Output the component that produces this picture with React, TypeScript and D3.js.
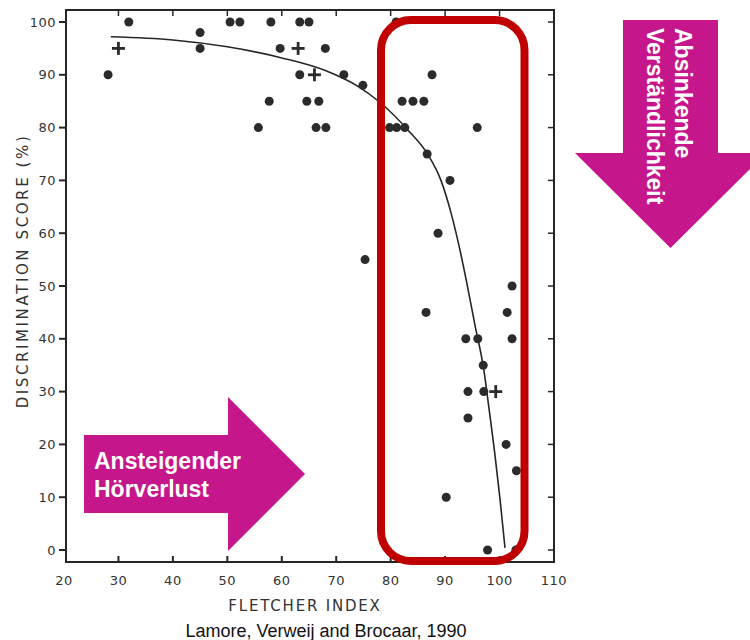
import { useMemo } from "react";
import * as d3 from "d3";

// scanned scatter: Fletcher index vs discrimination score
const dotX = [
  28.1, 31.9, 45, 45, 50.5, 52.3, 55.7, 58, 63.3, 65, 59.7, 68, 63.3, 71.4, 74.9,
  57.7, 64.6, 66.8, 66.3, 68.1, 81, 87.6, 82.1, 84.1, 86.1, 79.8, 81.1, 82.6,
  95.9, 86.7, 90.9, 88.7, 75.3, 102.3, 86.5, 101.4, 93.8, 96, 102.3, 97, 94.2,
  97.1, 94.2, 101.2, 103.1, 90.2, 97.8, 103,
];
const dotY = [
  90, 100, 98, 95, 100, 100, 80, 100, 100, 100, 95, 95, 90, 90, 88,
  85, 85, 85, 80, 80, 100, 90, 85, 85, 85, 80, 80, 80,
  80, 75, 70, 60, 55, 50, 45, 45, 40, 40, 40, 35, 30,
  30, 25, 20, 15, 10, 0, 0,
];
// group means (+)
const meanX = [30, 63, 66, 99.3];
const meanY = [95, 95, 90, 30];
// fitted curve
const fitX = [28.6, 40, 50, 60, 68, 74, 78, 83.2, 86.9, 89.2, 91.1, 92.6, 94, 95.5, 97.1, 98.1, 99.1, 100.1, 101];
const fitY = [97.2, 96.6, 95.3, 93.2, 90.8, 87.8, 84.8, 79.5, 74.8, 70.1, 63.8, 57.4, 50.5, 42.5, 34.2, 26.5, 18.5, 9.5, 0.4];

const xTicks = [20, 30, 40, 50, 60, 70, 80, 90, 100, 110];
const yTicks = [0, 10, 20, 30, 40, 50, 60, 70, 80, 90, 100];

const W = 750;
const H = 640;
const FRAME = { left: 66, right: 554, top: 10, bottom: 562 };
const MAGENTA = "#c6168b";
const INK = "#262626";
const LABEL = "#333";
const tickFont = "'DejaVu Sans', sans-serif";
const arial = "'Liberation Sans', Arial, sans-serif";

const App = () => {
  const x = useMemo(() => d3.scaleLinear().domain([20, 110]).range([64, 554]), []);
  const y = useMemo(() => d3.scaleLinear().domain([0, 100]).range([550, 22]), []);

  const fitPath = d3
    .line<number>()
    .x((d, i) => x(fitX[i]))
    .y((d, i) => y(fitY[i]))
    .curve(d3.curveMonotoneX)(fitY);

  const plus = 6.5;

  return (
    <svg
      width={W}
      height={H}
      style={{ position: "absolute", left: 0, top: 0, background: "#fff" }}
    >
      {/* frame */}
      <rect
        x={FRAME.left}
        y={FRAME.top}
        width={FRAME.right - FRAME.left}
        height={FRAME.bottom - FRAME.top}
        fill="none"
        stroke={INK}
        strokeWidth={2}
      />
      {/* y ticks left (outside) and right (inside) */}
      {yTicks.map((t) => (
        <g key={"y" + t}>
          <line x1={FRAME.left - 7} x2={FRAME.left} y1={y(t)} y2={y(t)} stroke={INK} strokeWidth={2} />
          <line x1={FRAME.right - 6} x2={FRAME.right} y1={y(t)} y2={y(t)} stroke={INK} strokeWidth={1.5} />
          <text
            x={56}
            y={y(t)}
            dy="0.36em"
            textAnchor="end"
            fontFamily={tickFont}
            fontSize={13}
            letterSpacing={0.5}
            fill={LABEL}
          >
            {t}
          </text>
        </g>
      ))}
      {/* x ticks bottom and top (inside) */}
      {xTicks.map((t) => (
        <g key={"x" + t}>
          {t > 20 && t < 110 && (
            <>
              <line x1={x(t)} x2={x(t)} y1={FRAME.bottom - 6} y2={FRAME.bottom} stroke={INK} strokeWidth={2} />
              <line x1={x(t)} x2={x(t)} y1={FRAME.top} y2={FRAME.top + 6} stroke={INK} strokeWidth={1.5} />
            </>
          )}
          <text
            x={x(t)}
            y={585}
            textAnchor="middle"
            fontFamily={tickFont}
            fontSize={13}
            letterSpacing={0.5}
            fill={LABEL}
          >
            {t}
          </text>
        </g>
      ))}
      <text
        x={305}
        y={611}
        textAnchor="middle"
        fontFamily={tickFont}
        fontSize={15}
        letterSpacing={1.8}
        fill={LABEL}
      >
        FLETCHER INDEX
      </text>
      <text
        transform="translate(28,271) rotate(-90)"
        textAnchor="middle"
        fontFamily={tickFont}
        fontSize={15}
        letterSpacing={2.6}
        fill={LABEL}
      >
        DISCRIMINATION SCORE (%)
      </text>

      {/* fitted curve */}
      <path d={fitPath ?? ""} fill="none" stroke={INK} strokeWidth={1.6} />

      {/* individual subjects */}
      {dotX.map((v, i) => (
        <circle key={"d" + i} cx={x(v)} cy={y(dotY[i])} r={4.5} fill="#2b2b2b" />
      ))}
      {meanX.map((v, i) => (
        <g key={"m" + i} stroke="#2b2b2b" strokeWidth={2.8}>
          <line x1={x(v) - plus} x2={x(v) + plus} y1={y(meanY[i])} y2={y(meanY[i])} />
          <line x1={x(v)} x2={x(v)} y1={y(meanY[i]) - plus} y2={y(meanY[i]) + plus} />
        </g>
      ))}

      {/* highlighted region */}
      <rect x={381} y={20} width={143.5} height={541} rx={30} ry={30} fill="none" stroke="#c00000" strokeWidth={8} />

      {/* right arrow */}
      <polygon
        points="84,435 228,435 228,397 305,474 228,551 228,513 84,513"
        fill={MAGENTA}
      />
      <text x={94} y={469} fontFamily={arial} fontWeight="bold" fontSize={23} fill="#fff">
        Ansteigender
      </text>
      <text x={94} y={497} fontFamily={arial} fontWeight="bold" fontSize={23} fill="#fff">
        Hörverlust
      </text>

      {/* down arrow */}
      <polygon
        points="623,20 718,20 718,153 766,153 670.5,248 575,153 623,153"
        fill={MAGENTA}
      />
      <text transform="translate(675,28) rotate(90)" fontFamily={arial} fontWeight="bold" fontSize={23} fill="#fff">
        Absinkende
      </text>
      <text transform="translate(647,28) rotate(90)" fontFamily={arial} fontWeight="bold" fontSize={23} fill="#fff">
        Verständlichkeit
      </text>

      <text x={326} y={637} textAnchor="middle" fontFamily={arial} fontSize={18} fill="#111">
        Lamore, Verweij and Brocaar, 1990
      </text>
    </svg>
  );
};

export default App;
